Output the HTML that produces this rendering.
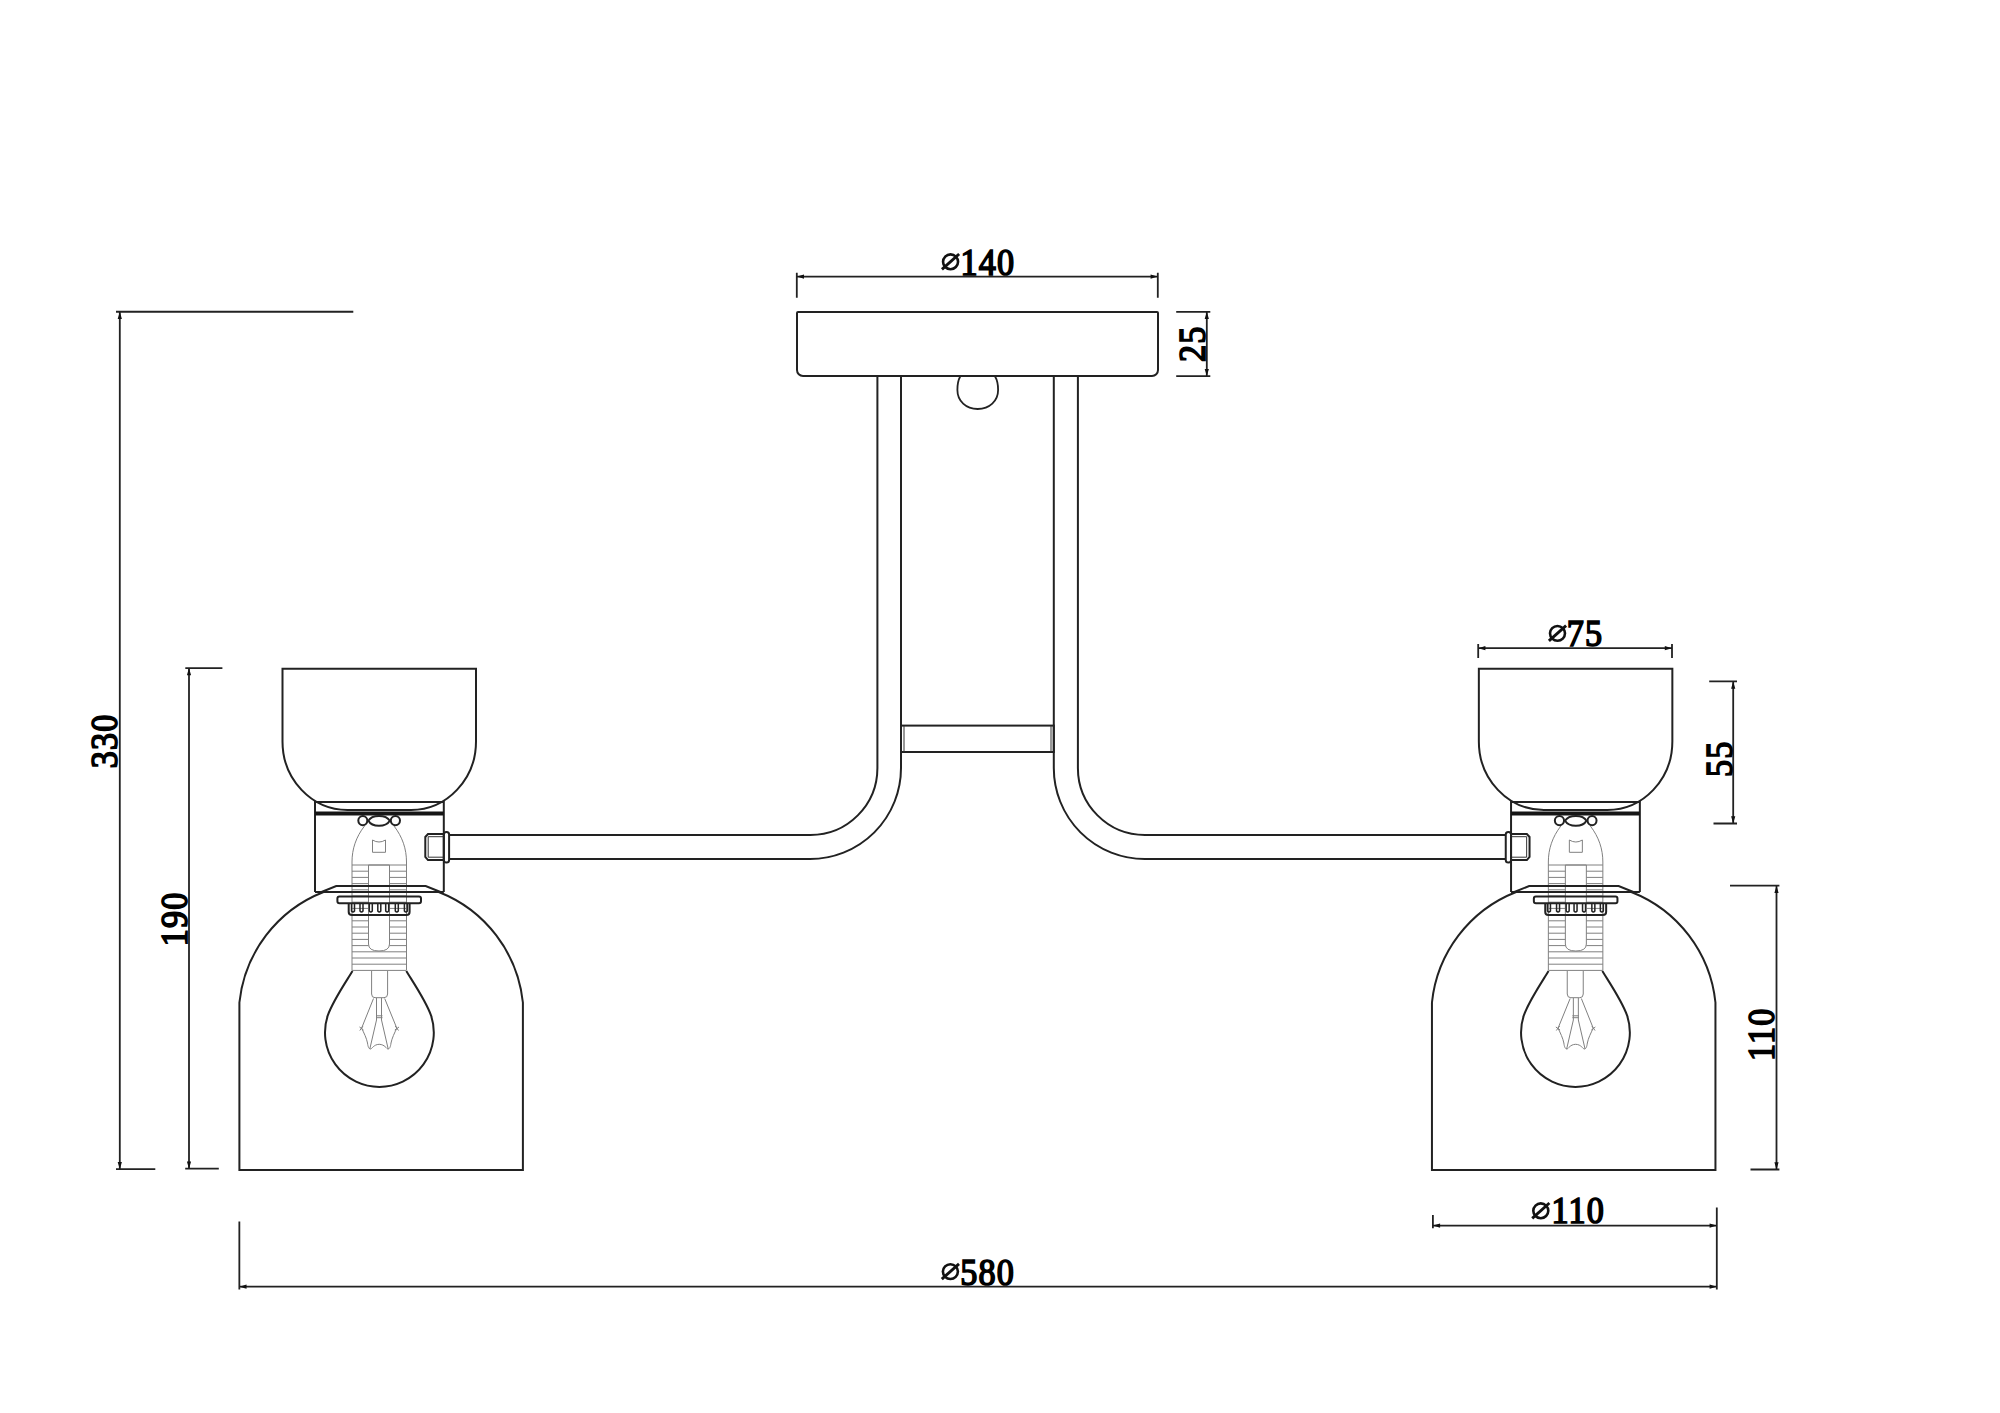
<!DOCTYPE html>
<html><head><meta charset="utf-8"><style>
html,body{margin:0;padding:0;background:#fff;}
svg{display:block;}
.o{fill:none;stroke:#222;stroke-width:2;}
.t{fill:none;stroke:#808080;stroke-width:1;}
.tx{font-family:"Liberation Serif",serif;font-size:38px;fill:#000;stroke:#000;stroke-width:1.7;letter-spacing:1.3px;}
.ar{fill:#111;stroke:none;}
</style></head><body>
<svg width="2000" height="1413" viewBox="0 0 2000 1413">
<rect width="2000" height="1413" fill="#fff"/>

<!-- canopy -->
<path class="o" d="M797,370 V313 Q797,312 798,312 H1157 Q1158,312 1158,313 V370 A6,6 0 0 1 1152,376 H803 A6,6 0 0 1 797,370 Z"/>
<!-- hook circle -->
<path class="o" style="stroke-width:1.8" d="M960.2,376.5 C958.2,380 957.4,385 957.4,390 C957.4,401 966,409 977.7,409 C989.4,409 998.1,401 998.1,390 C998.1,385 997.2,380 995.1,376.5"/>

<!-- stem + arms -->
<path class="o" d="M877.4,376 V768 A67,67 0 0 1 810.4,835 H449"/>
<path class="o" d="M901,376 V768 A91,91 0 0 1 810,859 H449"/>
<path class="o" d="M1053.8,376 V768 A91,91 0 0 0 1144.8,859 H1506"/>
<path class="o" d="M1077.9,376 V768 A67,67 0 0 0 1144.9,835 H1506"/>
<!-- crossbar -->
<rect class="o" x="901" y="725.6" width="152.8" height="26.4"/>
<path class="t" style="stroke:#333" d="M904,726 V752 M1051,726 V752"/>

<defs>
<g id="lamp">
  <!-- cup -->
  <path class="o" d="M282.5,741.4 V668.7 H476 V741.4 A65,68.6 0 0 1 411,810 H347.5 A65,68.6 0 0 1 282.5,741.4 Z"/>
  <!-- housing -->
  <path class="o" d="M315,892 V802 H443.8 V892"/>
  <path class="o" style="stroke-width:4;stroke:#151515" d="M315,813.6 H443.8"/>
  <!-- nut -->
  <ellipse class="o" cx="362.8" cy="820.6" rx="4.5" ry="4.6"/>
  <ellipse class="o" cx="395.4" cy="820.6" rx="4.6" ry="4.6"/>
  <path class="o" d="M368.4,820.8 C370.5,817 374.5,816 379,816 C383.5,816 387.5,817 389.8,820.8 C387.5,824.6 383.5,825.8 379,825.8 C374.5,825.8 370.5,824.6 368.4,820.8 Z"/>
  <!-- socket body (thin) -->
  <path class="t" d="M364.5,826 C356,837 352,849 352,862 V970 M394,826 C402.5,837 406.5,849 406.5,862 V970"/>
  <path class="t" d="M372.5,852.3 V840 Q379,844 385.5,840 V852.3 Z"/>
  <path class="t" d="M368.5,865 V944 Q368.5,951 379,951 Q389.5,951 389.5,944 V865 Z M352,865 H406.5"/>
  <path class="t" d="M352,871.2 H368.5 M389.5,871.2 H406.5 M352,877.4 H368.5 M389.5,877.4 H406.5 M352,883.6 H368.5 M389.5,883.6 H406.5 M352,889.8 H368.5 M389.5,889.8 H406.5 M352,896 H368.5 M389.5,896 H406.5 M352,902.2 H368.5 M389.5,902.2 H406.5 M352,908.4 H368.5 M389.5,908.4 H406.5 M352,914.6 H368.5 M389.5,914.6 H406.5 M352,920.8 H368.5 M389.5,920.8 H406.5 M352,927 H368.5 M389.5,927 H406.5 M352,933.2 H368.5 M389.5,933.2 H406.5 M352,939.4 H368.5 M389.5,939.4 H406.5 M352,945.6 H368.5 M389.5,945.6 H406.5 M352,951.8 H406.5 M352,958 H406.5 M352,964.2 H406.5 M352,970.4 H406.5"/>
  <!-- collar trapezoid -->
  <path class="o" d="M321.5,892 L336.2,886 H425.7 L440.5,892"/>
  <path class="o" d="M315,892 H443.8"/>
  <!-- ring plate -->
  <rect class="o" x="337.4" y="896.5" width="83.6" height="6.7" rx="2"/>
  <path class="o" d="M348.7,903 V912 Q348.7,915 352,915 H406.5 Q409.6,915 409.6,912 V903"/>
  <path class="o" style="stroke-width:1.5" d="M351.5,904 V911 Q353,913 354.5,911 V904 M360,904 V911 Q361.5,913 363,911 V904 M369.3,904 V911 Q370.8,913 372.3,911 V904 M377.8,904 V911 Q379.3,913 380.8,911 V904 M385.7,904 V911 Q387.2,913 388.7,911 V904 M395.3,904 V911 Q396.8,913 398.3,911 V904 M404.4,904 V911 Q405.9,913 407.4,911 V904"/>
  <!-- shade -->
  <path class="o" d="M323.6,892 A133.5,133.5 0 0 0 239.4,1002.5 V1170 H522.9 V1002.5 A133.5,133.5 0 0 0 438.7,892"/>
  <!-- bulb -->
  <path class="o" d="M352.5,971 C346.5,981 333,1000.6 327.7,1015.6 A54.4,54.4 0 1 0 431.1,1015.6 C425.8,1000.6 412.3,981 406.3,971"/>
  <path class="t" d="M371.6,971 V994 Q371.6,997.7 375,997.7 H384 Q387.6,997.7 387.6,994 V971"/>
  <path class="t" d="M373.5,998.5 L361.6,1028.2 M384.7,998.5 L396.8,1028.2 M376.5,998 V1020 M381.5,998 V1020 M376,1015.8 H382.5 M376,1017.7 H382.5 M376.5,1020 L369.8,1049 M381.5,1020 L388.2,1049 M359.5,1027 L363.5,1030 M359.8,1030.5 L363,1026 M394.8,1030 L399,1027 M395.2,1026 L398.5,1030.5"/>
  <path class="t" d="M361.6,1028.2 C364,1033 366.5,1038 367.5,1043 C368,1047 369,1049 370.5,1049 C372,1049 373.5,1044.5 379.2,1044.3 C385,1044.5 386.5,1049 388,1049 C389.5,1049 390.5,1047 391,1043 C392,1038 394.5,1033 396.8,1028.2"/>
  <!-- arm connector -->
  <path class="o" d="M443.8,834 H428 L425.3,837 V857 L428,860.1 H443.8"/>
  <path class="t" style="stroke:#333" d="M428.2,836.7 V857.2 M428.2,836.7 H443.8 M428.2,857.2 H443.8"/>
  <rect class="o" x="443.8" y="831.9" width="5.3" height="30.5" rx="2.5"/>
</g>
</defs>
<use href="#lamp"/>
<use href="#lamp" transform="translate(1954.85,0) scale(-1,1)"/>

<!-- ===== dimensions ===== -->
<g class="o" style="stroke-width:1.8">
  <!-- 140 -->
  <path d="M796.8,272.7 V297.8 M1157.8,272.7 V297.8 M796.8,276.6 H1157.8"/>
  <!-- 25 -->
  <path d="M1176.2,311.8 H1210.3 M1176.2,376.1 H1210.3 M1206.8,311.8 V376.1"/>
  <!-- 330 -->
  <path d="M116,311.75 H353.3 M116,1169.2 H155.3 M119.8,311.75 V1169.2"/>
  <!-- 190 -->
  <path d="M185.3,668.1 H222.4 M185.2,1168.7 H218.8 M189,668.1 V1168.7"/>
  <!-- 75 -->
  <path d="M1478.2,644 V658 M1672,644 V658 M1478.2,648.2 H1672"/>
  <!-- 55 -->
  <path d="M1709.2,681.45 H1737 M1713.5,823.5 H1737 M1733.2,681.45 V823.5"/>
  <!-- 110 v -->
  <path d="M1730,885.7 H1779.4 M1750.5,1169.5 H1779.4 M1776.5,885.7 V1169.5"/>
  <!-- 110 dia -->
  <path d="M1432.9,1215 V1228.3 M1716.8,1207.6 V1289.5 M1432.9,1225.6 H1716.8"/>
  <!-- 580 -->
  <path d="M239.35,1221.6 V1289.6 M239.35,1286.7 H1716.8"/>
</g>
<g class="ar">
  <!-- horizontal arrows: pointing left at x, pointing right at x -->
  <path d="M796.8,276.6 l7.2,-2.1 v4.2 z M1157.8,276.6 l-7.2,-2.1 v4.2 z"/>
  <path d="M1478.2,648.2 l7.2,-2.1 v4.2 z M1672,648.2 l-7.2,-2.1 v4.2 z"/>
  <path d="M1432.9,1225.6 l7.2,-2.1 v4.2 z M1716.8,1225.6 l-7.2,-2.1 v4.2 z"/>
  <path d="M239.35,1286.7 l7.2,-2.1 v4.2 z M1716.8,1286.7 l-7.2,-2.1 v4.2 z"/>
  <!-- vertical arrows -->
  <path d="M1206.8,311.8 l-2.1,7.2 h4.2 z M1206.8,376.1 l-2.1,-7.2 h4.2 z"/>
  <path d="M119.8,311.75 l-2.1,7.2 h4.2 z M119.8,1169.2 l-2.1,-7.2 h4.2 z"/>
  <path d="M189,668.1 l-2.1,7.2 h4.2 z M189,1168.7 l-2.1,-7.2 h4.2 z"/>
  <path d="M1733.2,681.45 l-2.1,7.2 h4.2 z M1733.2,823.5 l-2.1,-7.2 h4.2 z"/>
  <path d="M1776.5,885.7 l-2.1,7.2 h4.2 z M1776.5,1169.5 l-2.1,-7.2 h4.2 z"/>
</g>

<!-- texts -->
<g class="tx">
<text transform="translate(960.60,274.50) scale(0.9,1)">140</text>
<text transform="translate(960.20,1284.70) scale(0.9,1)">580</text>
<text transform="translate(1566.80,646.20) scale(0.9,1)">75</text>
<text transform="translate(1551.55,1223.20) scale(0.9,1)">110</text>
<text transform="translate(1204.50,361.90) rotate(-90) scale(0.9,1)">25</text>
<text transform="translate(117.40,768.15) rotate(-90) scale(0.9,1)">330</text>
<text transform="translate(186.90,946.35) rotate(-90) scale(0.9,1)">190</text>
<text transform="translate(1732.20,777.05) rotate(-90) scale(0.9,1)">55</text>
<text transform="translate(1774.30,1061.05) rotate(-90) scale(0.9,1)">110</text>
</g>
<g fill="none" stroke="#111" stroke-width="2.6"><ellipse cx="950.55" cy="261.8" rx="7.5" ry="7.4"/><path d="M941.95,269.30 L959.15,254.00" stroke-width="2.9"/><ellipse cx="950.4" cy="1271.6" rx="7.5" ry="7.4"/><path d="M941.80,1279.10 L959.00,1263.80" stroke-width="2.9"/><ellipse cx="1557.5" cy="633.35" rx="7.5" ry="7.4"/><path d="M1548.90,640.85 L1566.10,625.55" stroke-width="2.9"/><ellipse cx="1540.8" cy="1210.8" rx="7.5" ry="7.4"/><path d="M1532.20,1218.30 L1549.40,1203.00" stroke-width="2.9"/></g>
</svg>
</body></html>
